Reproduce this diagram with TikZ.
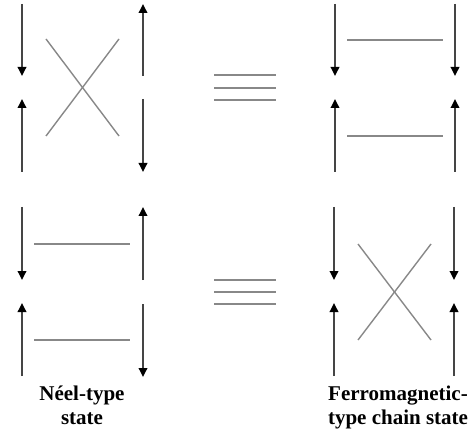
\documentclass[tikz,border=0pt]{standalone}
\usepackage{fontspec}
\setmainfont{Liberation Serif}
\usetikzlibrary{arrows.meta}
\definecolor{spincol}{HTML}{454545}
\definecolor{bondcol}{HTML}{888888}
\tikzset{
  spin/.style={draw=spincol,line width=1.8pt,-{Triangle[length=9pt,width=8.5pt,fill=black,color=black]}},
  bond/.style={draw=bondcol,line width=1.4pt},
  eqline/.style={draw=bondcol,line width=1.8pt},
  lbl/.style={font=\bfseries\fontsize{21}{24}\selectfont,align=center,inner sep=0pt}
}
\begin{document}
\begin{tikzpicture}[x=1pt,y=-1pt]
\useasboundingbox (0,0) rectangle (473,435);
% ---- top-left panel
\coordinate (a1) at (22,4);   \coordinate (a2) at (22,76);
\coordinate (a3) at (22,172); \coordinate (a4) at (22,99);
\coordinate (a5) at (143,76); \coordinate (a6) at (143,4);
\coordinate (a7) at (143,99); \coordinate (a8) at (143,172);
\draw[spin] (a1) -- (a2);
\draw[spin] (a3) -- (a4);
\draw[spin] (a5) -- (a6);
\draw[spin] (a7) -- (a8);
\coordinate (c1) at (46,39);  \coordinate (c2) at (119,136);
\coordinate (c3) at (46,136); \coordinate (c4) at (119,39);
\draw[bond] (c1) -- (c2);
\draw[bond] (c3) -- (c4);
% ---- top-right panel
\coordinate (b1) at (335,4);   \coordinate (b2) at (335,76);
\coordinate (b3) at (335,172); \coordinate (b4) at (335,99);
\coordinate (b5) at (455,4);   \coordinate (b6) at (455,76);
\coordinate (b7) at (455,172); \coordinate (b8) at (455,99);
\draw[spin] (b1) -- (b2);
\draw[spin] (b3) -- (b4);
\draw[spin] (b5) -- (b6);
\draw[spin] (b7) -- (b8);
\coordinate (d1) at (347,40);  \coordinate (d2) at (443,40);
\coordinate (d3) at (347,136); \coordinate (d4) at (443,136);
\draw[bond] (d1) -- (d2);
\draw[bond] (d3) -- (d4);
% ---- top equivalence sign
\coordinate (e1) at (214,75);  \coordinate (e2) at (276,75);
\coordinate (e3) at (214,88);  \coordinate (e4) at (276,88);
\coordinate (e5) at (214,100); \coordinate (e6) at (276,100);
\draw[eqline] (e1) -- (e2);
\draw[eqline] (e3) -- (e4);
\draw[eqline] (e5) -- (e6);
% ---- bottom-left panel
\coordinate (f1) at (22,207);  \coordinate (f2) at (22,280);
\coordinate (f3) at (22,376);  \coordinate (f4) at (22,303);
\coordinate (f5) at (143,280); \coordinate (f6) at (143,207);
\coordinate (f7) at (143,304); \coordinate (f8) at (143,377);
\draw[spin] (f1) -- (f2);
\draw[spin] (f3) -- (f4);
\draw[spin] (f5) -- (f6);
\draw[spin] (f7) -- (f8);
\coordinate (g1) at (34,244);  \coordinate (g2) at (130,244);
\coordinate (g3) at (34,340);  \coordinate (g4) at (130,340);
\draw[bond] (g1) -- (g2);
\draw[bond] (g3) -- (g4);
% ---- bottom-right panel
\coordinate (h1) at (334,207); \coordinate (h2) at (334,280);
\coordinate (h3) at (334,376); \coordinate (h4) at (334,303);
\coordinate (h5) at (454,207); \coordinate (h6) at (454,280);
\coordinate (h7) at (454,376); \coordinate (h8) at (454,303);
\draw[spin] (h1) -- (h2);
\draw[spin] (h3) -- (h4);
\draw[spin] (h5) -- (h6);
\draw[spin] (h7) -- (h8);
\coordinate (k1) at (358,244); \coordinate (k2) at (431,340);
\coordinate (k3) at (358,340); \coordinate (k4) at (431,244);
\draw[bond] (k1) -- (k2);
\draw[bond] (k3) -- (k4);
% ---- bottom equivalence sign
\coordinate (m1) at (214,280); \coordinate (m2) at (276,280);
\coordinate (m3) at (214,292); \coordinate (m4) at (276,292);
\coordinate (m5) at (214,304); \coordinate (m6) at (276,304);
\draw[eqline] (m1) -- (m2);
\draw[eqline] (m3) -- (m4);
\draw[eqline] (m5) -- (m6);
% ---- labels
\node[lbl] (neel) at (82,405) {Néel-type\\state};
\node[lbl] (ferro) at (398,407) {Ferromagnetic-\\type chain state};
\end{tikzpicture}
\end{document}
